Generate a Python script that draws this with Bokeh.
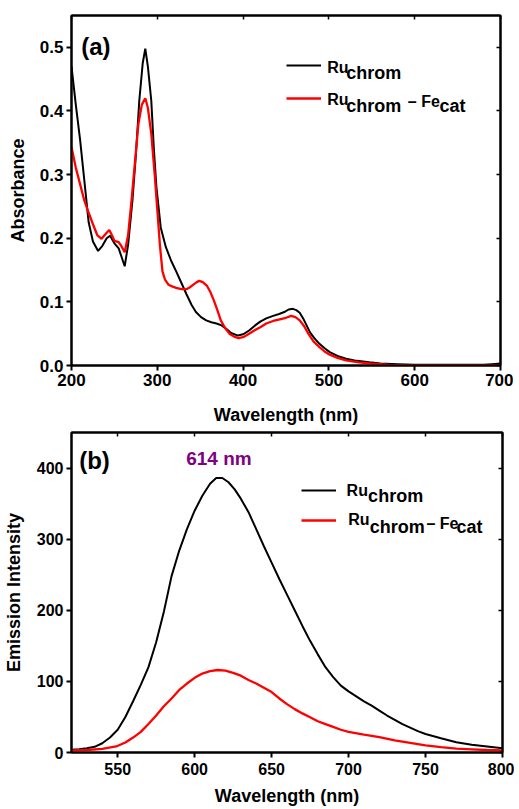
from bokeh.plotting import figure
from bokeh.models import (Label, Legend, LegendItem, FixedTicker, PrintfTickFormatter,
                          LinearAxis, CustomJSTickFormatter)
from bokeh.layouts import column
from bokeh.embed import file_html
from bokeh.resources import INLINE

# ---------------- Panel (a): UV-Vis absorbance ----------------
abs_wl_chrom = [200, 205, 210, 215, 220, 225, 231, 236, 241, 245, 250, 255, 258, 262, 266,
                271, 275, 279, 283, 286, 289, 293, 296, 299, 304, 310, 316, 322, 328, 334,
                340, 345, 351, 357, 363, 369, 375, 380, 386, 394, 400, 407, 414, 420, 427,
                435, 442, 448, 453, 458, 462, 466, 470, 474, 478, 483, 489, 495, 501, 510,
                520, 530, 547, 560, 580, 600, 620, 650, 680, 690, 700]
abs_chrom = [0.470, 0.410, 0.355, 0.290, 0.225, 0.195, 0.180, 0.188, 0.200, 0.204, 0.192,
             0.184, 0.172, 0.156, 0.190, 0.259, 0.330, 0.416, 0.475, 0.498, 0.470, 0.416,
             0.340, 0.280, 0.217, 0.186, 0.165, 0.148, 0.130, 0.112, 0.095, 0.084, 0.076,
             0.071, 0.068, 0.066, 0.063, 0.058, 0.051, 0.047, 0.049, 0.055, 0.063, 0.069,
             0.074, 0.078, 0.081, 0.084, 0.088, 0.089, 0.087, 0.083, 0.074, 0.063, 0.052,
             0.043, 0.034, 0.027, 0.021, 0.015, 0.0105, 0.008, 0.005, 0.003, 0.002, 0.001,
             0.001, 0.001, 0.001, 0.002, 0.003]

abs_wl_fe = [200, 205, 210, 215, 220, 225, 230, 235, 240, 244, 247, 250, 255, 258, 262, 266,
             270, 274, 278, 282, 286, 289, 293, 297, 300, 303, 306, 309, 313, 318, 322, 328,
             334, 338, 342, 346, 349, 353, 358, 362, 366, 370, 374, 379, 384, 390, 395, 401,
             407, 413, 420, 427, 435, 444, 450, 456, 461, 466, 471, 476, 482, 489, 495, 501,
             510, 520, 535, 550, 570, 600, 700]
abs_fe = [0.343, 0.311, 0.285, 0.259, 0.240, 0.222, 0.205, 0.199, 0.207, 0.213, 0.205, 0.196,
          0.194, 0.188, 0.178, 0.205, 0.260, 0.320, 0.380, 0.410, 0.420, 0.405, 0.364, 0.300,
          0.245, 0.190, 0.148, 0.135, 0.127, 0.124, 0.122, 0.120, 0.120, 0.123, 0.127, 0.131,
          0.133, 0.131, 0.125, 0.115, 0.102, 0.087, 0.071, 0.059, 0.050, 0.045, 0.043, 0.045,
          0.050, 0.055, 0.060, 0.066, 0.070, 0.073, 0.075, 0.078, 0.076, 0.071, 0.062, 0.050,
          0.038, 0.029, 0.022, 0.017, 0.012, 0.008, 0.005, 0.003, 0.001, 0.000, 0.000]

abs_xticks = [200, 300, 400, 500, 600, 700]
abs_yticks = [0.0, 0.1, 0.2, 0.3, 0.4, 0.5]

# ---------------- Panel (b): emission ----------------
em_wl_chrom = [520, 525, 530, 535, 540, 545, 550, 555, 560, 565, 570, 575, 580, 585, 590, 595,
               600, 605, 610, 614, 618, 622, 626, 630, 635, 640, 645, 650, 655, 660, 665, 670,
               675, 680, 685, 690, 695, 700, 705, 710, 715, 720, 725, 730, 735, 740, 745, 750,
               760, 770, 780, 790, 800]
em_chrom = [4, 4.5, 6, 8, 13, 21, 32, 50, 72, 95, 120, 155, 198, 248, 284, 314, 340, 361, 378,
            386, 386, 380, 370, 357, 338, 314, 290, 267, 244, 222, 200, 178, 157, 138, 120, 106,
            94, 86, 79, 72, 66, 59, 52, 46, 40, 35, 30, 26, 20, 14.5, 11, 8.5, 6]

em_wl_fe = [520, 530, 540, 549, 555, 560, 565, 570, 575, 580, 585, 590, 595, 600, 605, 610, 615,
            620, 625, 630, 635, 640, 645, 650, 655, 660, 665, 670, 675, 680, 685, 690, 695, 700,
            710, 720, 730, 740, 750, 760, 770, 780, 790, 800]
em_fe = [3, 3.5, 5, 8.5, 14, 21, 29, 40, 52, 65, 76, 88, 97, 105, 111, 114.5, 116, 115, 112, 108,
         102, 97, 91, 85, 76, 68, 61, 55, 49.5, 44, 40, 36, 32, 29, 25, 21.5, 17, 13.5, 10, 7.5,
         5.5, 4.5, 3.5, 3]

em_xticks = [550, 600, 650, 700, 750, 800]
em_yticks = [0, 100, 200, 300, 400]

FONT = "Liberation Sans"
RED = "#FF0000"
PURPLE = "#800080"


def style_axes(p, xticks, yticks, xfmt, yfmt, tick_size, xl_standoff, yl_standoff, xlab_standoff):
    p.xgrid.visible = False
    p.ygrid.visible = False
    p.outline_line_color = "black"
    p.outline_line_width = 2
    for ax in (p.xaxis[0], p.yaxis[0]):
        ax.axis_line_width = 2
        ax.major_tick_line_width = 2
        ax.major_tick_out = 5
        ax.major_tick_in = 0
        ax.minor_tick_out = 0
        ax.minor_tick_in = 0
        ax.major_label_text_font = FONT
        ax.major_label_text_font_style = "bold"
        ax.major_label_text_font_size = tick_size
        ax.major_label_text_color = "black"
        ax.axis_label_text_font = FONT
        ax.axis_label_text_font_style = "bold"
        ax.axis_label_text_font_size = "18px"
        ax.axis_label_text_color = "black"
    p.xaxis[0].ticker = FixedTicker(ticks=xticks)
    p.yaxis[0].ticker = FixedTicker(ticks=yticks)
    p.xaxis[0].formatter = PrintfTickFormatter(format=xfmt)
    p.yaxis[0].formatter = PrintfTickFormatter(format=yfmt)
    p.xaxis[0].major_label_standoff = xlab_standoff
    p.yaxis[0].major_label_standoff = 3
    p.xaxis[0].axis_label_standoff = xl_standoff
    p.yaxis[0].axis_label_standoff = yl_standoff
    # mirrored inward ticks on top and right
    for side, ticks in (("above", xticks), ("right", yticks)):
        ax = LinearAxis(ticker=FixedTicker(ticks=ticks),
                        formatter=CustomJSTickFormatter(code="return ''"),
                        major_tick_in=4, major_tick_out=0, minor_tick_in=0, minor_tick_out=0,
                        major_label_standoff=0, major_label_text_font_size="1px",
                        axis_line_width=2, major_tick_line_width=1.5)
        p.add_layout(ax, side)


def add_text(p, text, x, y, size, color="black", align="left"):
    p.add_layout(Label(x=x, y=y, text=text, text_font=FONT, text_font_style="bold",
                       text_font_size=size, text_color=color, text_align=align,
                       text_baseline="middle"))


# ---------------- figure (a) ----------------
pa = figure(frame_width=429, frame_height=350, x_range=(200, 700), y_range=(0, 0.55),
            min_border_left=64, min_border_right=17, min_border_top=15, min_border_bottom=66,
            output_backend="svg", toolbar_location=None,
            x_axis_label="Wavelength (nm)", y_axis_label="Absorbance")
ra1 = pa.line(abs_wl_chrom, abs_chrom, line_color="black", line_width=2)
ra2 = pa.line(abs_wl_fe, abs_fe, line_color=RED, line_width=2.3)
style_axes(pa, abs_xticks, abs_yticks, "%d", "%.1f", "17px", 16, 9, 3)

leg_a = Legend(items=[LegendItem(label=" ", renderers=[ra1]),
                      LegendItem(label=" ", renderers=[ra2])],
               location=(215, 257), glyph_width=35, glyph_height=20, label_height=20,
               label_width=0, spacing=13, padding=0, margin=0, label_standoff=0,
               border_line_color=None, background_fill_alpha=0, label_text_font_size="10px")
pa.add_layout(leg_a)

add_text(pa, "(a)", 211.3, 0.501, "24px")
add_text(pa, "Ru", 498, 0.4685, "16px")
add_text(pa, "chrom", 520.2, 0.459, "18px")
add_text(pa, "Ru", 498, 0.4184, "16px")
add_text(pa, "chrom", 520.2, 0.4078, "18px")
add_text(pa, "\u2013 Fe", 592, 0.4145, "16px")
add_text(pa, "cat", 628.9, 0.4078, "18px")

# ---------------- figure (b) ----------------
pb = figure(frame_width=431, frame_height=320, x_range=(520, 800), y_range=(0, 450),
            min_border_left=67, min_border_right=12, min_border_top=1, min_border_bottom=57,
            output_backend="svg", toolbar_location=None,
            x_axis_label="Wavelength (nm)", y_axis_label="Emission Intensity")
rb1 = pb.line(em_wl_chrom, em_chrom, line_color="black", line_width=2)
rb2 = pb.line(em_wl_fe, em_fe, line_color=RED, line_width=2.3)
style_axes(pb, em_xticks, em_yticks, "%d", "%d", "16px", 8, 10, 5)

leg_b = Legend(items=[LegendItem(label=" ", renderers=[rb1]),
                      LegendItem(label=" ", renderers=[rb2])],
               location=(230, 222), glyph_width=35, glyph_height=20, label_height=20,
               label_width=0, spacing=10, padding=0, margin=0, label_standoff=0,
               border_line_color=None, background_fill_alpha=0, label_text_font_size="10px")
pb.add_layout(leg_b)

add_text(pb, "(b)", 525, 410, "24px")
add_text(pb, "614 nm", 615.8, 413.9, "19px", color=PURPLE, align="center")
add_text(pb, "Ru", 698.7, 369.1, "16px")
add_text(pb, "chrom", 712.7, 360.7, "18px")
add_text(pb, "Ru", 699.8, 327, "16px")
add_text(pb, "chrom", 713.8, 317.7, "18px")
add_text(pb, "\u2013 Fe", 750.6, 322.3, "16px")
add_text(pb, "cat", 770.1, 317.7, "18px")

layout = column(pa, pb, spacing=0)
open("out.html", "w").write(file_html(layout, INLINE))
